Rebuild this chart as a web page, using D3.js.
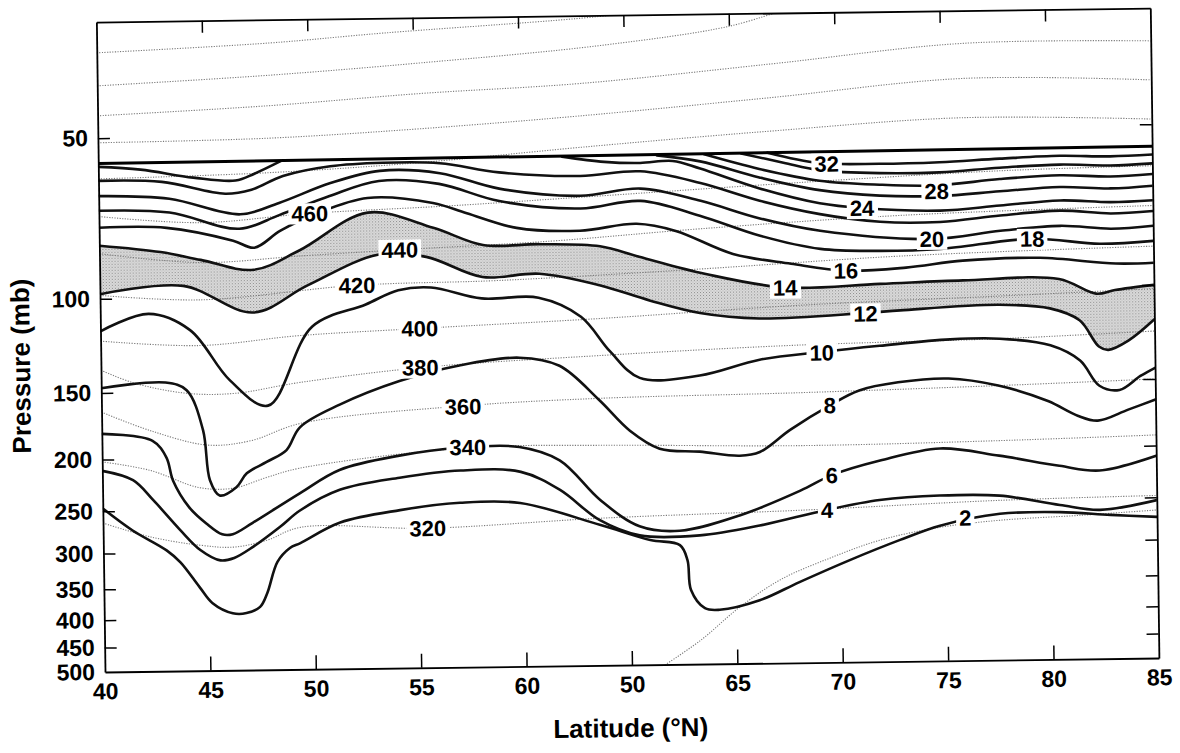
<!DOCTYPE html>
<html>
<head>
<meta charset="utf-8">
<script src="https://cdn.jsdelivr.net/npm/d3@7"></script>
<style>
  html, body { margin: 0; padding: 0; background: #fff; }
  svg { display: block; font-family: "Liberation Sans", Arial, Helvetica, sans-serif; }
</style>
</head>
<body>
<svg id="chart" width="1180" height="753"></svg>
<script>
// ---- axis definitions ----
// x positions are stations along the flight track (0..10), labelled as printed
const trackTicks = [0, 1, 2, 3, 4, 5, 6, 7, 8, 9, 10];
const trackLabels = ["40", "45", "50", "55", "60", "50", "65", "70", "75", "80", "85"];
const pressureTicks = [50, 100, 150, 200, 250, 300, 350, 400, 450, 500];

// ---- upper limit of the PV analysis (mb) ----
const ceiling = [[0, 55.8], [10, 55.0]];

// ---- potential vorticity contours (PVU): segments of [track, pressure mb] ----
const pv2 = [[[0,247],[0.28,272],[0.60,297],[0.73,313],[0.91,349],[1.03,374],[1.22,391],[1.35,391],[1.48,381],[1.55,359],[1.65,314],[1.77,296],[1.87,290],[2.25,266],[2.82,253],[3.39,246],[3.96,247],[4.72,273],[5.19,292],[5.47,299],[5.54,319],[5.57,363],[5.70,393],[5.84,396],[6.22,381],[6.60,353],[7.08,322],[7.56,296],[7.94,279],[8.51,266],[9.08,265],[9.56,269],[10,272]]];
const pv4 = [[[0,210],[0.29,219],[0.48,239],[0.73,272],[0.92,297],[1.11,311],[1.24,308],[1.42,294],[1.68,270],[1.87,252],[2.25,231],[2.82,220],[3.40,214],[3.97,216],[4.34,234],[4.71,267],[5.09,286],[5.66,287],[6.23,276],[6.87,259],[7.37,249],[7.94,245],[8.51,246],[9.08,257],[9.46,263],[10,253]]];
const pv6 = [[[0,179],[0.48,185],[0.61,199],[0.67,220],[0.82,247],[0.98,265],[1.13,278],[1.23,278],[1.42,265],[1.87,234],[2.25,212],[2.82,200],[3.39,194],[3.96,194],[4.34,206],[4.72,245],[5.09,275],[5.47,281],[6.04,264],[6.62,238],[6.92,223],[7.38,210],[7.95,200],[8.51,207],[9.08,217],[9.46,222],[10,209]]];
const pv8 = [[[0,147],[0.61,144],[0.81,149],[0.96,177],[1.02,220],[1.11,235],[1.27,227],[1.37,214],[1.56,204],[1.75,194],[1.88,176],[2.26,160],[2.83,145],[3.40,136],[3.97,132],[4.35,137],[4.72,159],[5.01,182],[5.29,197],[5.67,200],[6.05,204],[6.24,201],[6.53,183],[6.91,165],[7.19,155],[7.56,150],[8.04,148],[8.51,153],[8.98,164],[9.26,175],[9.45,179],[9.74,171],[10,164]]];
const pv10 = [[[0,115],[0.46,107],[0.85,115],[1.22,143],[1.58,160],[2.01,114],[2.52,104],[2.83,98],[3.14,97],[3.62,102],[4.16,102],[4.56,111],[4.83,129],[5.11,145],[5.68,144],[6.25,135],[6.84,131],[7.39,128],[8.06,125],[8.53,125],[9.01,129],[9.29,138],[9.47,154],[9.66,157],[9.86,148],[10,143]]];
const pv12 = [[[0,98],[0.79,95],[1.45,107],[1.97,95.5],[2.64,84],[3.10,85],[3.63,93],[4.17,92],[4.74,97],[5.22,104],[5.69,110],[6.25,113],[7.26,111],[7.59,110],[8.53,108],[9.01,110],[9.29,116],[9.47,130],[9.56,132],[9.75,127],[10,116]]];
const pv14 = [[[0,79.5],[0.58,82],[0.96,85],[1.46,89],[1.90,82],[2.55,70],[3.17,75],[3.64,81],[4.18,81],[4.75,82],[5.12,86],[5.75,93],[6.50,99],[7.40,98],[8.19,97],[9.10,97],[9.45,103.5],[9.63,102],[10,100]]];
const pv16 = [[[0,73.6],[0.64,73.9],[1.27,78.4],[1.47,80.9],[1.72,75.3],[2.07,70],[2.55,65.7],[3.17,67.4],[3.49,70.6],[3.96,75.4],[4.56,76.6],[5.10,74.6],[5.47,77.1],[6.01,85.4],[6.56,89.4],[7.08,92.4],[7.65,91.5],[8.19,89.1],[8.92,88.4],[9.64,91],[10,90.9]]];
const pv18 = [[[0,68.4],[0.67,69.2],[1.33,74.5],[1.71,70.4],[2.19,65.0],[2.66,61.1],[3.23,62.1],[3.80,67.1],[4.57,69.6],[5.14,67.6],[5.70,72.3],[6.27,79.1],[6.84,84.0],[7.41,85.0],[7.98,84.6],[8.85,81.4],[9.49,83.5],[10,82.7]]];
const pv20 = [[[0,64.2],[0.67,65.2],[1.34,70.0],[1.71,66.8],[2.20,61.5],[2.67,58.5],[3.24,59.3],[3.80,63.6],[4.57,65.9],[5.14,64.1],[5.71,67.8],[6.27,73.4],[6.84,77.7],[7.90,81.0],[8.55,78.5],[9.12,77.1],[9.60,78.3],[10,77.5]]];
const pv22 = [[[0,60.1],[0.6,60.6],[1.2,64.0],[1.45,63.0],[1.75,59.5],[2.2,57.2],[2.7,56.5],[3.24,56.8],[3.80,59.3],[4.57,60.5],[5.14,59.5],[5.71,62.8],[6.27,68.0],[6.84,72.3],[7.41,75.0],[7.98,75.3],[8.55,73.5],[9.12,72.2],[9.60,73.3],[10,72.7]]];
const pv24 = [[[0,56.6],[0.4,57.4],[0.9,59.6],[1.3,60.5],[1.48,58.8],[1.73,55.8]],
              [[4.4,55.6],[4.8,57.0],[5.14,57.4],[5.45,57.0],[5.71,59.0],[6.27,64.5],[6.84,69.0],[7.24,70.6],[7.98,71.7],[8.55,70.4],[9.12,69.1],[9.60,69.8],[10,69.4]]];
const pv26 = [[[5.3,55.6],[5.71,57.2],[6.27,61.5],[6.84,65.2],[7.41,67.0],[7.98,67.3],[8.55,66.2],[9.12,65.2],[9.6,65.8],[10,65.2]]];
const pv28 = [[[5.75,55.5],[6.27,59.3],[6.84,62.6],[7.41,63.9],[7.95,64.3],[8.55,62.8],[9.12,62.0],[9.6,62.5],[10,62.0]]];
const pv30 = [[[6.1,55.4],[6.5,57.8],[6.84,59.8],[7.41,60.8],[7.98,60.8],[8.55,59.8],[9.12,59.2],[9.6,59.6],[10,59.2]]];
const pv32 = [[[6.35,55.3],[6.84,58.0],[7.41,58.4],[7.98,58.2],[8.55,57.5],[9.12,57.0],[9.6,57.3],[10,57.0]]];

const pvContours = [pv2, pv4, pv6, pv8, pv10, pv12, pv14, pv16, pv18, pv20, pv22, pv24, pv26, pv28, pv30, pv32];

// ---- isentropes (K): [track, pressure mb] ----
const th310 = [[5.25,510],[5.65,452],[6.03,392],[6.42,349],[6.89,319],[7.37,296],[7.94,281],[8.51,273.5],[9.27,269],[10,264]];
const th320 = [[0,263],[0.45,280],[0.92,291],[1.23,294],[1.55,286],[1.87,271],[3.08,274],[4.72,265],[6.61,259],[8.51,251],[10,248]];
const th340 = [[0,202],[0.45,210],[0.92,227],[1.24,228],[1.56,218],[1.87,210],[3.47,194],[4.72,193.5],[6.62,196],[8.52,194],[10,191]];
const th360 = [[0,163],[0.46,177],[1.0,189],[1.41,186],[1.89,173],[3.43,162],[4.73,158],[6.62,156],[8.52,153],[10,150]];
const th380 = [[0,136],[0.31,144],[0.81,151],[1.26,151.5],[1.89,145],[3.03,137],[4.73,131.4],[6.64,127],[8.53,125],[10,122]];
const th400 = [[0,120],[0.94,123],[1.89,118.5],[3.03,115.7],[4.74,112],[6.63,107],[8.54,104],[10,101.6]];
const th420 = [[0,98.5],[0.95,101],[2.44,95.7],[3.79,94.5],[5.69,91],[7.62,87],[10,84.6]];
const th440 = [[0,82.3],[0.96,86],[1.93,84],[2.86,82.3],[4.28,80],[5.70,76.5],[7.63,73],[10,71]];
const th460 = [[0,70.1],[0.96,72.4],[2.0,70],[3.33,68.3],[4.76,66],[6.66,63],[8.55,60.6],[10,59.8]];
const th480 = [[0,59.6],[1.61,58.6],[3.04,56.6],[4.56,53.5],[6.38,50.4],[8.2,48.1],[10,48.9]];
const th500 = [[0,51],[1.61,50.5],[3.06,48.9],[4.57,46.7],[6.40,43.6],[8.22,40.6],[10,41.3]];
const th520 = [[0,45.4],[1.62,43.9],[3.07,42],[4.58,40.6],[6.41,37.7],[8.22,34.9],[10,34.9]];
const th540 = [[0,39.9],[1.62,38.5],[3.08,36.8],[4.78,34.5],[6.0,32],[6.5,30.0]];
const th560 = [[0,34.6],[1.63,33.5],[2.72,32.3],[4.54,30.7],[5.3,29.8]];

const isentropes = [th310, th320, th340, th360, th380, th400, th420, th440, th460, th480, th500, th520, th540, th560];

// ---- contour labels: [value, track, pressure mb] ----
const pvLabels = [[2,8.18,270],[4,6.87,259],[6,6.92,223],[8,6.91,165],[10,6.84,131.4],[12,7.26,111.3],[14,6.50,99.1],[16,7.08,92.4],[18,8.85,81.4],[20,7.90,81],[24,7.24,70.6],[28,7.95,65.9],[32,6.91,58.2]];
const thetaLabels = [[320,3.08,274],[340,3.47,193.6],[360,3.43,162.4],[380,3.03,136.9],[400,3.03,115.7],[420,2.44,95.7],[440,2.85,82.3],[460,2.00,70]];

// ---- layout ----
const plot = { left: 105, right: 1159, top: 22, bottom: 672 };
const tilt = -0.76; // the printed figure sits slightly askew

const x = d3.scaleLinear().domain([0, 10]).range([plot.left, plot.right]);
const y = d3.scaleLog().domain([500, 30.3]).range([plot.bottom, plot.top]);

const svg = d3.select("#chart");
const defs = svg.append("defs");

defs.append("clipPath").attr("id", "plotClip")
  .append("rect")
  .attr("x", plot.left).attr("y", plot.top)
  .attr("width", plot.right - plot.left).attr("height", plot.bottom - plot.top);

const stipple = defs.append("pattern").attr("id", "stipple")
  .attr("patternUnits", "userSpaceOnUse").attr("width", 3).attr("height", 3);
stipple.append("rect").attr("width", 3).attr("height", 3).attr("fill", "#dcdcdc");
stipple.append("rect").attr("x", 0).attr("y", 0).attr("width", 1).attr("height", 1).attr("fill", "#8a8a8a");
stipple.append("rect").attr("x", 1.5).attr("y", 1.5).attr("width", 1).attr("height", 1).attr("fill", "#a8a8a8");

const root = svg.append("g").attr("transform", `rotate(${tilt},${plot.left},${plot.bottom})`);
const inner = root.append("g").attr("clip-path", "url(#plotClip)");

const line = d3.line()
  .x(d => x(d[0]))
  .y(d => y(d[1]))
  .curve(d3.curveCatmullRom.alpha(0.5));

// shaded layer between the 12 and 14 PVU contours
const upper = line(pv14[0]);
const lower = line(pv12[0].slice().reverse());
inner.append("path")
  .attr("d", upper + "L" + lower.substring(1) + "Z")
  .attr("fill", "url(#stipple)")
  .attr("stroke", "none");

// isentropes (dotted)
inner.selectAll("path.theta")
  .data(isentropes)
  .join("path")
  .attr("class", "theta")
  .attr("d", line)
  .attr("fill", "none")
  .attr("stroke", "#7a7a7a")
  .attr("stroke-width", 1.1)
  .attr("stroke-dasharray", "1.2 1.4");

// PV contours (solid)
inner.selectAll("path.pv")
  .data(pvContours.flat())
  .join("path")
  .attr("class", "pv")
  .attr("d", line)
  .attr("fill", "none")
  .attr("stroke", "#111")
  .attr("stroke-width", 2.6)
  .attr("stroke-linejoin", "round")
  .attr("stroke-linecap", "round");

// top of the PV analysis
inner.append("path")
  .attr("d", d3.line().x(d => x(d[0])).y(d => y(d[1]))(ceiling))
  .attr("fill", "none")
  .attr("stroke", "#000")
  .attr("stroke-width", 3);

// contour labels with white knock-out boxes
function addLabels(data, size) {
  const lg = inner.append("g");
  data.forEach(([v, t, p]) => {
    const cell = lg.append("g").attr("transform", `translate(${x(t)},${y(p)})`);
    const box = cell.append("rect").attr("fill", "#fff");
    const txt = cell.append("text")
      .attr("text-anchor", "middle")
      .attr("dy", "0.36em")
      .attr("font-size", size)
      .attr("font-weight", "bold")
      .attr("fill", "#000")
      .text(v);
    const bb = txt.node().getBBox();
    box.attr("x", bb.x - 3).attr("y", bb.y + 2).attr("width", bb.width + 6).attr("height", bb.height - 4);
  });
}
addLabels(thetaLabels, 22);
addLabels(pvLabels, 22);

// axes (inward ticks on all four sides)
const fontTicks = 23;
const axL = root.append("g").attr("transform", `translate(${plot.left},0)`)
  .call(d3.axisLeft(y).tickValues(pressureTicks).tickFormat(d3.format("d"))
    .tickSizeInner(-12).tickSizeOuter(0).tickPadding(10));
const axR = root.append("g").attr("transform", `translate(${plot.right},0)`)
  .call(d3.axisRight(y).tickValues(pressureTicks).tickFormat("")
    .tickSizeInner(-12).tickSizeOuter(0));
const axB = root.append("g").attr("transform", `translate(0,${plot.bottom})`)
  .call(d3.axisBottom(x).tickValues(trackTicks).tickFormat(i => trackLabels[i])
    .tickSizeInner(-14).tickSizeOuter(0).tickPadding(11));
const axT = root.append("g").attr("transform", `translate(0,${plot.top})`)
  .call(d3.axisTop(x).tickValues(trackTicks).tickFormat("")
    .tickSizeInner(-12).tickSizeOuter(0));

[axL, axR, axB, axT].forEach(a => {
  a.select(".domain").attr("stroke", "#000").attr("stroke-width", 1.8);
  a.selectAll(".tick line").attr("stroke", "#000").attr("stroke-width", 1.5);
  a.selectAll(".tick text")
    .attr("font-family", "'Liberation Sans', Arial, sans-serif")
    .attr("font-size", fontTicks)
    .attr("font-weight", "bold")
    .attr("fill", "#000");
});
// hide the edge ticks that coincide with the frame
axB.selectAll(".tick line").filter(d => d === 0 || d === 10).remove();
axT.selectAll(".tick line").filter(d => d === 0 || d === 10).remove();
axL.selectAll(".tick line").filter(d => d === 500).remove();
axR.selectAll(".tick line").filter(d => d === 500).remove();

// axis titles
root.append("text")
  .attr("transform", "translate(34,365) rotate(-90)")
  .attr("text-anchor", "middle")
  .attr("font-size", 26)
  .attr("font-weight", "bold")
  .text("Pressure (mb)");

root.append("text")
  .attr("x", 630).attr("y", 744)
  .attr("text-anchor", "middle")
  .attr("font-size", 26)
  .attr("font-weight", "bold")
  .text("Latitude (°N)");
</script>
</body>
</html>
